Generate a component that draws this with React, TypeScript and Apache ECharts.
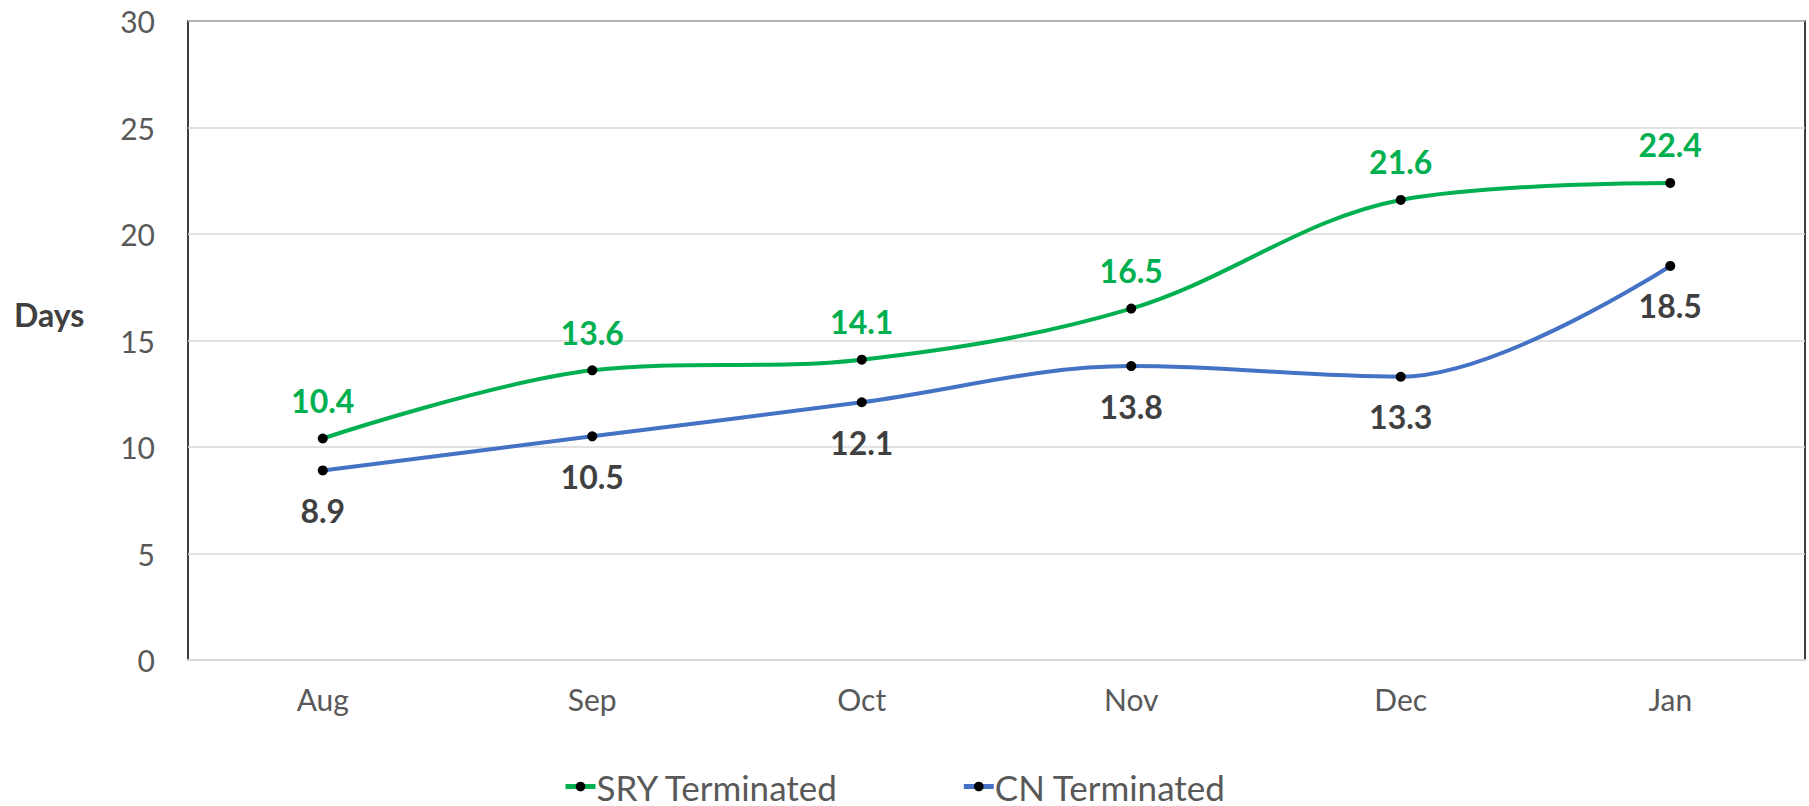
import React, { useEffect, useRef } from "react";
import * as echarts from "echarts";

const months = ["Aug", "Sep", "Oct", "Nov", "Dec", "Jan"];
const sryTerminated = [10.4, 13.6, 14.1, 16.5, 21.6, 22.4];
const cnTerminated = [8.9, 10.5, 12.1, 13.8, 13.3, 18.5];
const yTicks = { min: 0, max: 30, interval: 5 };

const FONT = "Lato";

export default function App() {
  const ref = useRef<HTMLDivElement>(null);
  useEffect(() => {
    document.body.style.margin = "0";
    const chart = echarts.init(ref.current!, null, { renderer: "svg" });
    chart.setOption({
      animation: false,
      backgroundColor: "#ffffff",
      textStyle: { fontFamily: FONT },
      grid: {
        left: 188,
        top: 21,
        right: 4,
        bottom: 146,
        show: true,
        borderColor: "#000000",
        borderWidth: 1.5,
        containLabel: false,
      },
      graphic: [
        {
          type: "text",
          left: 14,
          top: 298,
          style: {
            text: "Days",
            fontFamily: FONT,
            fontWeight: "bold",
            fontSize: 32,
            fill: "#404040",
          },
        },
      ],
      legend: {
        bottom: -3,
        left: 558,
        itemGap: 122,
        itemWidth: 30,
        itemHeight: 12,
        lineStyle: { width: 5 },
        textStyle: { fontFamily: FONT, fontSize: 35, color: "#595959", padding: [0, 0, 0, -4] },
        data: ["SRY Terminated", "CN Terminated"],
      },
      xAxis: {
        type: "category",
        data: months,
        boundaryGap: true,
        axisLine: { show: true, lineStyle: { color: "#d9d9d9", width: 2 } },
        axisTick: { show: false },
        axisLabel: { color: "#595959", fontFamily: FONT, fontSize: 30, margin: 24 },
        z: 5,
      },
      yAxis: {
        type: "value",
        min: yTicks.min,
        max: yTicks.max,
        interval: yTicks.interval,
        axisLine: { show: false },
        axisTick: { show: false },
        splitLine: { lineStyle: { color: "#d9d9d9", width: 1.5 } },
        axisLabel: { color: "#595959", fontFamily: FONT, fontSize: 30, margin: 33 },
      },
      series: [
        {
          name: "SRY Terminated",
          type: "line",
          data: sryTerminated,
          smooth: 0.35,
          symbol: "circle",
          symbolSize: 10,
          itemStyle: { color: "#000000" },
          lineStyle: { color: "#00b050", width: 4 },
          label: {
            show: true,
            position: "top",
            distance: 17,
            color: "#00b050",
            fontFamily: FONT,
            fontWeight: "bold",
            fontSize: 32,
            formatter: (p: any) => p.value.toFixed(1),
          },
          z: 3,
        },
        {
          name: "CN Terminated",
          type: "line",
          data: cnTerminated,
          smooth: 0.35,
          symbol: "circle",
          symbolSize: 10,
          itemStyle: { color: "#000000" },
          lineStyle: { color: "#4472c4", width: 4 },
          label: {
            show: true,
            position: "bottom",
            distance: 19,
            color: "#404040",
            fontFamily: FONT,
            fontWeight: "bold",
            fontSize: 32,
            formatter: (p: any) => p.value.toFixed(1),
          },
          z: 3,
        },
      ],
    });
    return () => chart.dispose();
  }, []);
  return <div ref={ref} style={{ width: 1809, height: 806 }} />;
}
